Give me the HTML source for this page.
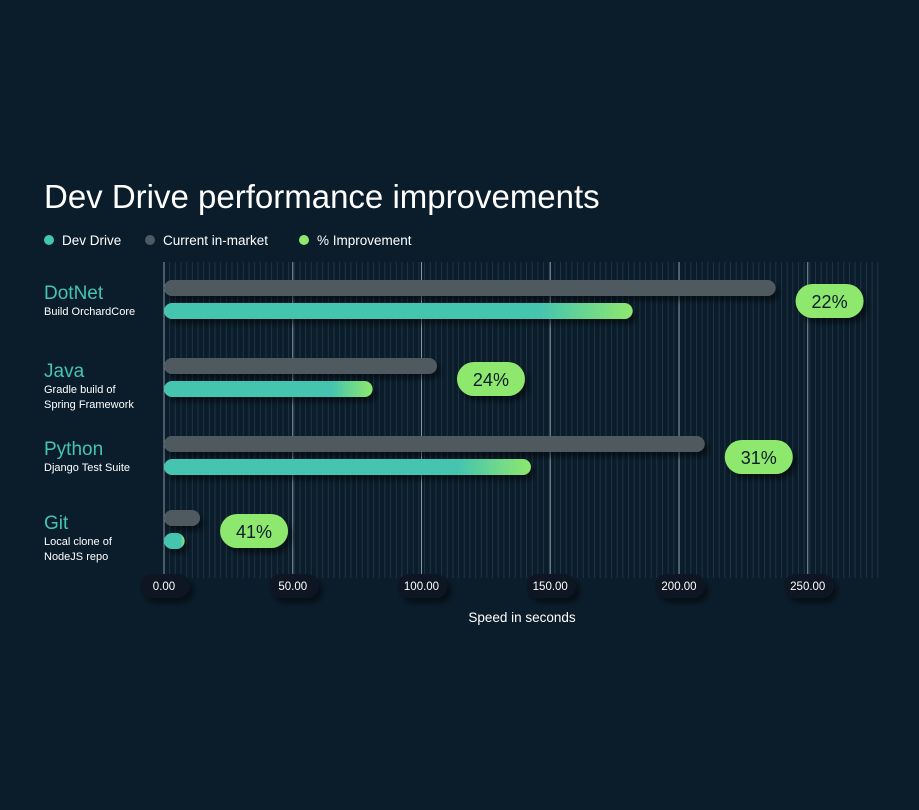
<!DOCTYPE html>
<html><head><meta charset="utf-8"><style>
body{margin:0;background:#0b1d2b;font-family:"Liberation Sans",sans-serif;}
#c{position:relative;width:919px;height:810px;overflow:hidden;background:#0b1d2b;}
.t{position:absolute;color:#fff;}
</style></head><body>
<div id="c">
<div class="t" style="left:44px;top:178px;font-size:33px;">Dev Drive performance improvements</div>
<div style="position:absolute;left:44px;top:233px;font-size:13.5px;color:#fff;">
 <span style="position:absolute;left:0;white-space:nowrap"><span style="display:inline-block;width:10px;height:10px;border-radius:5px;background:#45c4b0;margin-right:8px"></span>Dev Drive</span>
 <span style="position:absolute;left:101px;white-space:nowrap"><span style="display:inline-block;width:10px;height:10px;border-radius:5px;background:#4f5a61;margin-right:8px"></span>Current in-market</span>
 <span style="position:absolute;left:255px;white-space:nowrap"><span style="display:inline-block;width:10px;height:10px;border-radius:5px;background:#8ee86e;margin-right:8px"></span>% Improvement</span>
</div>
<svg id="s" width="919" height="810" style="position:absolute;left:0;top:0">
<defs><linearGradient id="g" x1="0" x2="1" y1="0" y2="0"><stop offset="0.8" stop-color="#45c4b0"/><stop offset="1" stop-color="#8ee86e"/></linearGradient>
<filter id="sh" x="-20%" y="-50%" width="150%" height="250%"><feDropShadow dx="4" dy="5" stdDeviation="3" flood-color="#000" flood-opacity="0.5"/></filter></defs>
<g id="grid"></g><g id="bars"></g><g id="labels"></g>
</svg>
</div>
<script>
const categories=["DotNet","Java","Python","Git"];
const subtitles=[["Build OrchardCore"],["Gradle build of","Spring Framework"],["Django Test Suite"],["Local clone of","NodeJS repo"]];
const currentValues=[237.5,106,210,14];
const devDriveValues=[182,81,142.5,8];
const improvementLabels=["22%","24%","31%","41%"];
const tickValues=[0,50,100,150,200,250];
const tickLabels=["0.00","50.00","100.00","150.00","200.00","250.00"];
const NS="http://www.w3.org/2000/svg";
const x0=164,scale=2.575,rowTop=[280,358,436,510],bh=16;
const xs=v=>x0+v*scale;
function mk(p,tag,a){const e=document.createElementNS(NS,tag);for(const k in a)e.setAttribute(k,a[k]);p.appendChild(e);return e;}
const grid=document.getElementById('grid'),bars=document.getElementById('bars'),labels=document.getElementById('labels');
for(let v=0;v<=278;v+=2.2){const l=mk(grid,'line',{x1:xs(v),x2:xs(v),y1:262,y2:578,stroke:'#1f3545','stroke-width':1});

}
tickValues.forEach((v,i)=>{const l=mk(grid,'line',{x1:xs(v),x2:xs(v),y1:262,y2:578,stroke:'#8a98a2','stroke-width':1});


const r=mk(labels,'rect',{x:xs(v)-24,y:574,width:50,height:24,rx:12,fill:'#0a1824',filter:'url(#sh)'});


const t=mk(labels,'text',{x:xs(v),y:590,'text-anchor':'middle',fill:'#fff','font-size':11.5,'font-family':'Liberation Sans, sans-serif'});t.textContent=tickLabels[i];

});
const at=mk(labels,'text',{x:522,y:622,'text-anchor':'middle',fill:'#fff','font-size':13.5,'font-family':'Liberation Sans, sans-serif'});at.textContent='Speed in seconds';


categories.forEach((c,i)=>{const y=rowTop[i];
const g=mk(bars,'rect',{x:x0,y:y,width:xs(currentValues[i])-x0,height:bh,rx:8,fill:'#4f5a61',filter:'url(#sh)'});


const d=mk(bars,'rect',{x:x0,y:y+23,width:xs(devDriveValues[i])-x0,height:bh,rx:8,fill:'url(#g)',filter:'url(#sh)'});


const px=xs(currentValues[i])+20;
const p=mk(bars,'rect',{x:px,y:y+4,width:68,height:34,rx:17,fill:'#8ee86e',filter:'url(#sh)'});


const pt=mk(labels,'text',{x:px+34,y:y+28,'text-anchor':'middle',fill:'#0b1d2b','font-size':18,'font-family':'Liberation Sans, sans-serif'});pt.textContent=improvementLabels[i];


const ct=mk(labels,'text',{x:44,y:y+19,fill:'#45c4b0','font-size':19,'font-family':'Liberation Sans, sans-serif'});ct.textContent=c;


subtitles[i].forEach((s,j)=>{const st=mk(labels,'text',{x:44,y:y+35+j*15,fill:'#fff','font-size':11,'font-family':'Liberation Sans, sans-serif'});st.textContent=s;

});
});
</script>
</body></html>
